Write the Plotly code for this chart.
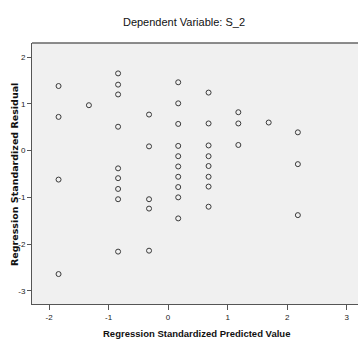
import plotly.graph_objects as go

# Standardized predicted values (x) and standardized residuals (y)
predicted = [
    -1.84, -1.84, -1.84, -1.84,
    -1.33,
    -0.84, -0.84, -0.84, -0.84, -0.84, -0.84, -0.84, -0.84, -0.84,
    -0.32, -0.32, -0.32, -0.32, -0.32,
    0.17, 0.17, 0.17, 0.17, 0.17, 0.17, 0.17, 0.17, 0.17, 0.17,
    0.68, 0.68, 0.68, 0.68, 0.68, 0.68, 0.68, 0.68,
    1.18, 1.18, 1.18,
    1.69,
    2.18, 2.18, 2.18,
]
residual = [
    1.38, 0.72, -0.62, -2.64,
    0.97,
    1.65, 1.41, 1.20, 0.51, -0.38, -0.59, -0.82, -1.04, -2.16,
    0.77, 0.09, -1.04, -1.24, -2.14,
    1.46, 1.01, 0.57, 0.10, -0.12, -0.34, -0.56, -0.78, -1.00, -1.45,
    1.24, 0.58, 0.11, -0.12, -0.33, -0.56, -0.77, -1.20,
    0.82, 0.58, 0.12,
    0.60,
    0.39, -0.29, -1.38,
]
x_ticks = [-2, -1, 0, 1, 2, 3]
x_tick_labels = ["-2", "-1", "0", "1", "2", "3"]
y_ticks = [-3, -2, -1, 0, 1, 2]
y_tick_labels = ["-3", "-2", "-1", "0", "1", "2"]

sans = "Liberation Sans, Arial, sans-serif"
wide = "DejaVu Sans, Verdana, sans-serif"

fig = go.Figure(
    go.Scatter(
        x=predicted,
        y=residual,
        mode="markers",
        marker=dict(symbol="circle-open", size=5, color="#3a3a3a", line=dict(width=1)),
        showlegend=False,
    )
)

fig.update_layout(
    width=358,
    height=341,
    margin=dict(l=32, r=0, t=43, b=37),
    paper_bgcolor="white",
    plot_bgcolor="#f0f0f0",
    title=dict(
        text="Dependent Variable: S_2",
        x=184 / 358,
        xanchor="center",
        y=1 - 22 / 341,
        yanchor="middle",
        font=dict(family=sans, size=11, color="#111"),
    ),
    xaxis=dict(
        range=[-2.286, 3.19],
        tickvals=x_ticks,
        ticktext=x_tick_labels,
        showgrid=False,
        zeroline=False,
        showline=True,
        linecolor="#555",
        linewidth=1,
        ticks="outside",
        ticklen=5,
        tickcolor="#555",
        tickfont=dict(family=sans, size=8, color="#222"),
    ),
    yaxis=dict(
        range=[-3.28, 2.30],
        tickvals=y_ticks,
        ticktext=y_tick_labels,
        showgrid=False,
        zeroline=False,
        showline=True,
        linecolor="#555",
        linewidth=1,
        ticks="outside",
        ticklen=4,
        tickcolor="#555",
        tickfont=dict(family=sans, size=8, color="#222"),
    ),
    shapes=[
        dict(type="line", xref="paper", yref="paper", x0=0, x1=1, y0=1, y1=1,
             line=dict(color="#666", width=1.5)),
    ],
    annotations=[
        dict(
            text="<b>Regression Standardized Predicted Value</b>",
            xref="paper", yref="paper",
            x=(196 - 32) / 326, y=-(333 - 304) / 261,
            xanchor="center", yanchor="middle", showarrow=False,
            font=dict(family=sans, size=9.5, color="#111"),
        ),
        dict(
            text="<b>Regression Standardized Residual</b>",
            xref="paper", yref="paper",
            x=-(32 - 14) / 326, y=(304 - 175) / 261,
            xanchor="center", yanchor="middle", showarrow=False, textangle=-90,
            font=dict(family=wide, size=9.5, color="#111"),
        ),
    ],
)

fig.write_html("out.html")
